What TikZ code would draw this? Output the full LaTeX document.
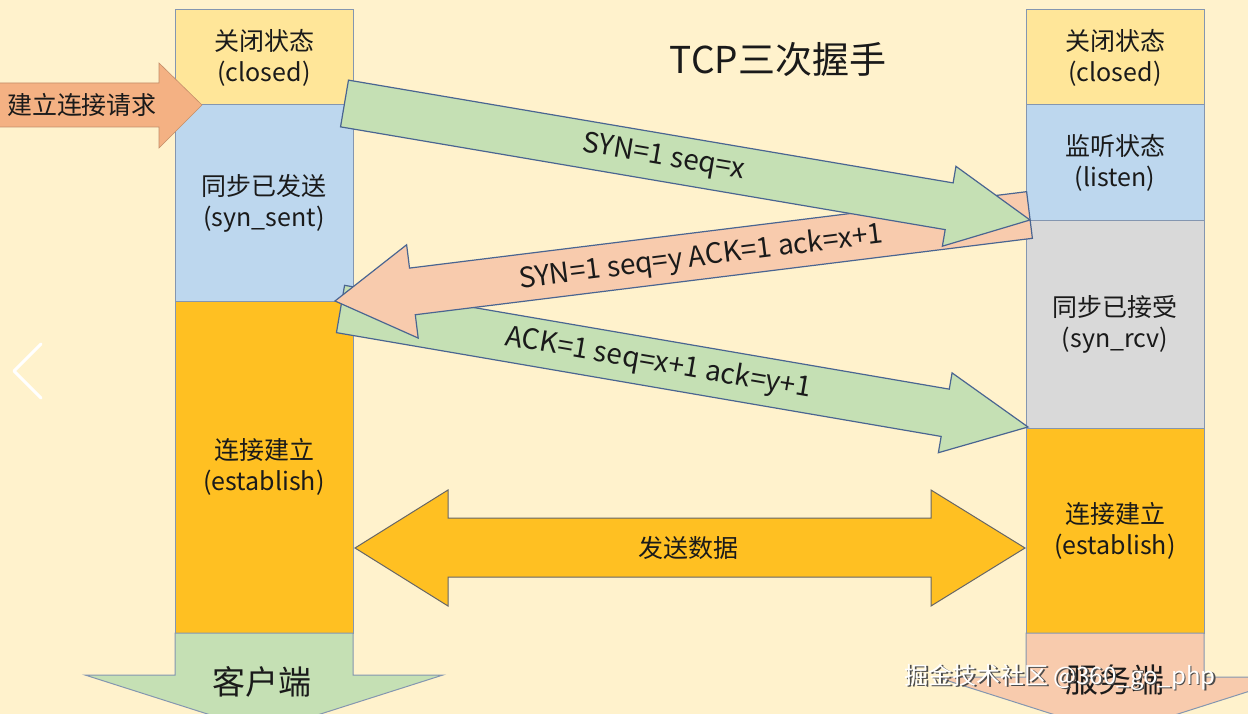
\documentclass[tikz,border=0pt]{standalone}
\usepackage{fontspec}
\setmainfont{Noto Sans CJK SC}
\usetikzlibrary{calc}
\definecolor{bg}{HTML}{FFF2CC}
\definecolor{cyellow}{HTML}{FFE699}
\definecolor{cblue}{HTML}{BDD7EE}
\definecolor{cgold}{HTML}{FFC022}
\definecolor{cgray}{HTML}{D9D9D9}
\definecolor{cgreen}{HTML}{C5E0B4}
\definecolor{cpink}{HTML}{F8CBAD}
\definecolor{corange}{HTML}{F4B183}
\definecolor{edgeb}{HTML}{8496B0}
\definecolor{arredge}{HTML}{4A6591}
\definecolor{txt}{HTML}{1A1A1A}
\newcommand\mkfatarrow[7]{%
  \coordinate (#1h) at ($(#3)!#6!(#2)$);
  \draw[#7] ($(#2)!#4!90:(#3)$) -- ($(#1h)!#4!90:(#3)$) -- ($(#1h)!#5!90:(#3)$) -- (#3)
    -- ($(#1h)!#5!-90:(#3)$) -- ($(#1h)!#4!-90:(#3)$) -- ($(#2)!#4!-90:(#3)$) -- cycle;
}
\begin{document}
\begin{tikzpicture}[x=1pt,y=-1pt,
  statebox/.style={draw=edgeb, line width=1pt, minimum width=178pt, inner sep=0pt,
    align=center, font=\fontsize{25}{31}\selectfont, text=txt},
  fat/.style={draw=arredge, line width=1.2pt, line join=miter},
  plainarr/.style={draw=edgeb, line width=1pt, line join=miter},
  lbl/.style={font=\fontsize{25}{28}\selectfont, text=txt, inner sep=0pt},
  arrlbl/.style={font=\fontsize{28}{30}\selectfont, text=txt, inner sep=0pt},
]
\useasboundingbox (0,0) rectangle (1248,714);
\clip (0,0) rectangle (1248,714);
\fill[bg] (0,0) rectangle (1248,714);

% client column
\node[statebox, fill=cyellow, minimum height=95pt] (closedL) at (264,57.5) {关闭状态\\(closed)};
\node[statebox, fill=cblue, minimum height=196pt] (synsent) at (264,203) {同步已发送\\(syn\_sent)};
\node[statebox, fill=cgold, minimum height=332pt] (estL) at (264,467) {连接建立\\(establish)};

% server column
\node[statebox, fill=cyellow, minimum height=95pt] (closedR) at (1115,57.5) {关闭状态\\(closed)};
\node[statebox, fill=cblue, minimum height=116pt] (listen) at (1115,163) {监听状态\\(listen)};
\node[statebox, fill=cgray, minimum height=207pt] (synrcv) at (1115,324.5) {同步已接受\\(syn\_rcv)};
\node[statebox, fill=cgold, minimum height=205pt] (estR) at (1115,530.5) {连接建立\\(establish)};

% bottom arrows
\draw[plainarr, fill=cgreen] (175,633) -- (175,675) -- (85,675) -- (264,732) -- (443,675) -- (353,675) -- (353,633) -- cycle;
\node[font=\fontsize{33}{36}\selectfont, text=txt] (client) at (262,682) {客户端};
\draw[plainarr, fill=cpink] (1026,633) -- (1026,677) -- (936,677) -- (1115,734) -- (1294,677) -- (1204,677) -- (1204,633) -- cycle;
\node[font=\fontsize{33}{36}\selectfont, text=txt] (server) at (1115,680) {服务端};

% handshake arrows
\coordinate (gcT) at (340.5,309);
\coordinate (gcP) at (1028,427);
\coordinate (pbT) at (1029.5,215);
\coordinate (pbP) at (335,301);
\coordinate (gaT) at (344.5,103.5);
\coordinate (gaP) at (1030,220);
\mkfatarrow{gc}{gcT}{gcP}{24pt}{40.5pt}{84pt}{fat, fill=cgreen}
\mkfatarrow{pb}{pbT}{pbP}{23.5pt}{47pt}{78pt}{fat, fill=cpink}
\mkfatarrow{ga}{gaT}{gaP}{23.7pt}{40.5pt}{82pt}{fat, fill=cgreen}
\path (gaT) -- (gaP) node[arrlbl, pos=0.466, rotate=-9.65] (galbl) {SYN=1 seq=x};
\path (pbT) -- (pbP) node[arrlbl, pos=0.473, rotate=7.06, yshift=-2pt] (pblbl) {SYN=1 seq=y ACK=1 ack=x+1};
\path (gcT) -- (gcP) node[arrlbl, pos=0.462, rotate=-9.74] (gclbl) {ACK=1 seq=x+1 ack=y+1};

% data double arrow
\draw[draw=gray!80!black, line width=1pt, fill=cgold, line join=miter]
  (355,548) -- (448,490) -- (448,518) -- (931,518) -- (931,490) -- (1025,548)
  -- (931,606) -- (931,577) -- (448,577) -- (448,606) -- cycle;
\node[lbl] (data) at (688,548) {发送数据};

% request arrow
\draw[draw=corange!80!black, line width=0.6pt, fill=corange, line join=miter]
  (-5,83) -- (159,83) -- (159,63) -- (202,105) -- (159,148) -- (159,127) -- (-5,127) -- cycle;
\node[lbl] (req) at (82,105) {建立连接请求};

% title
\node[font=\fontsize{37}{40}\selectfont, text=txt] (title) at (778,60) {TCP三次握手};

% watermark
\node[font=\fontsize{24}{28}\selectfont, text=black!70] (wmshadow) at (1061.5,678.5) {掘金技术社区 @360\_go\_php};
\node[font=\fontsize{24}{28}\selectfont, text=white] (wm) at (1060,677) {掘金技术社区 @360\_go\_php};

% carousel chevron
\draw[white, line width=3pt, line cap=round, line join=round] (41,344) -- (14,371) -- (41,398);
\end{tikzpicture}
\end{document}
